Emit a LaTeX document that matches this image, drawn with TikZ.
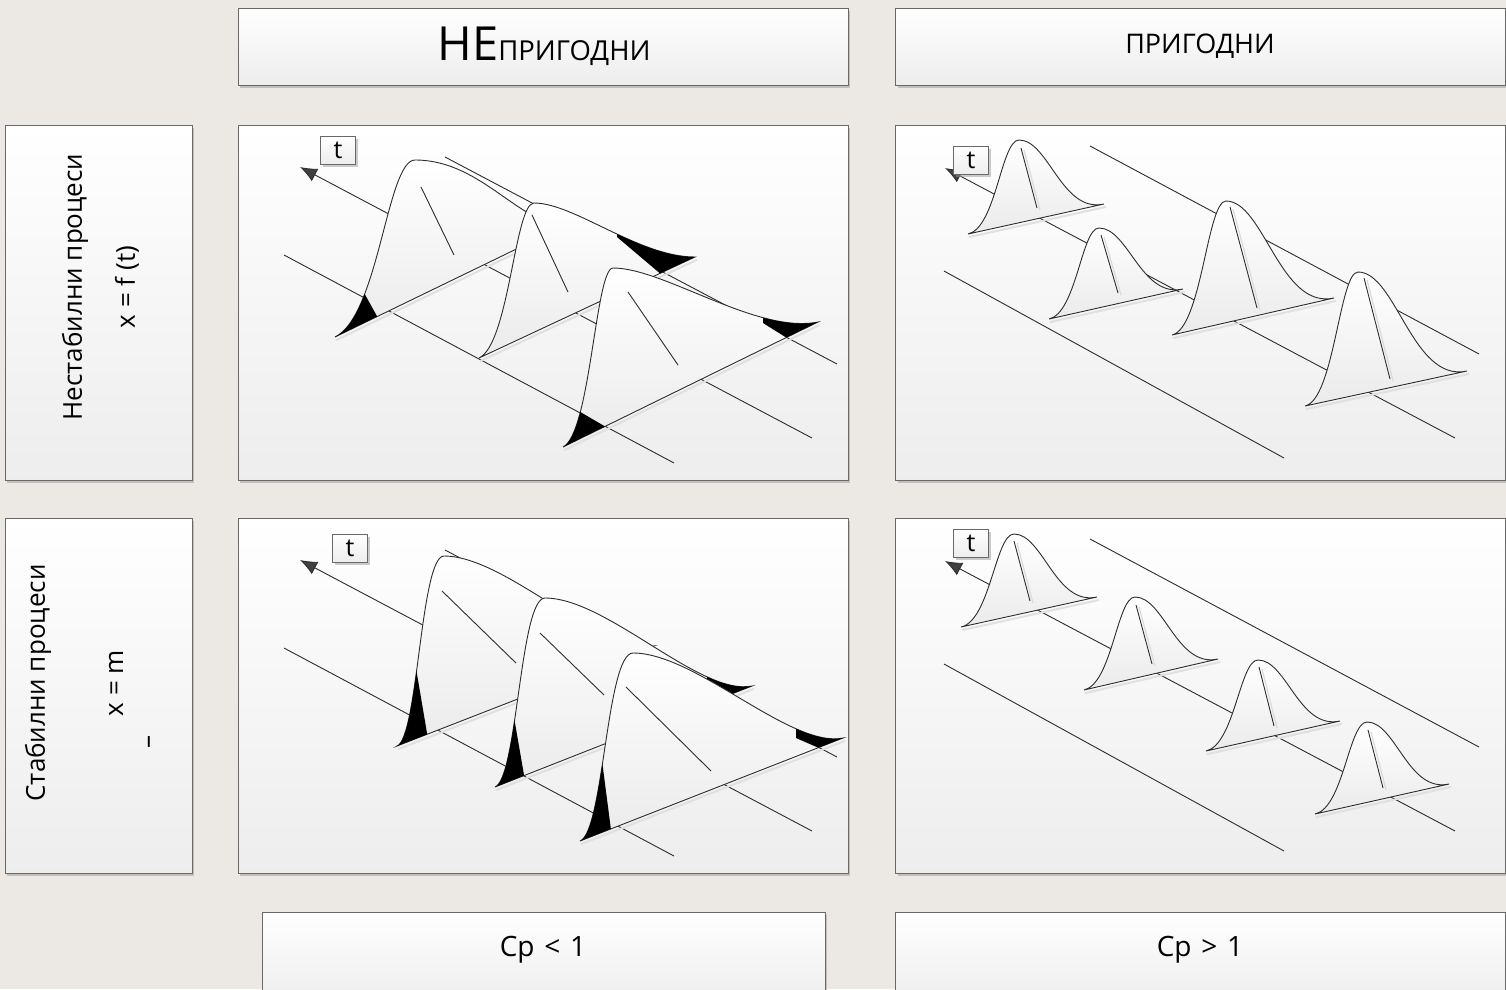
\documentclass[tikz,border=0pt]{standalone}
\usepackage{fontspec}
\setmainfont{Open Sans}
\usetikzlibrary{arrows.meta,shadows}
\definecolor{bg}{RGB}{236,232,228}
\definecolor{ln}{RGB}{45,45,45}
\definecolor{frm}{RGB}{105,105,105}
\definecolor{arr}{RGB}{64,64,64}
% hump outline: L=(#1,#2), peak P=(#3,#4), R=(#5,#6)
\newcommand\hump[6]{(#1,#2) .. controls ({#1+\ha*(#3-#1)},{#2+\ha*(#3-#1)*(#6-#2)/(#5-#1)}) and ({#3-\hb*(#3-#1)},#4) .. (#3,#4) .. controls ({#3+\hc*(#5-#3)},#4) and ({#5-\hd*(#5-#3)},{#6+\hd*(#5-#3)*\he}) .. (#5,#6) -- cycle}
% soft shadow under a hump base
\newcommand\hshadow[6]{\draw[hsh] ({#1+1.5},{#2+3}) -- ({#5+1.5},{#6+3});}
\def\ha{0.55}\def\hb{0.35}\def\hc{0.45}\def\hd{0.4}\def\he{0}
\begin{document}
\begin{tikzpicture}[x=1pt,y=-1pt,
  boxst/.style={draw=frm, line width=1pt, top color=white, bottom color=black!7, inner sep=0pt,
    drop shadow={shadow xshift=2pt,shadow yshift=-2.5pt,fill=black!40,opacity=0.5}},
  axline/.style={draw=ln, line width=0.9pt},
  msh/.style={draw=black!14, line width=1.2pt},
  hsh/.style={draw=black!12, line width=2pt, line cap=round},
  axarr/.style={axline, {Latex[length=17pt,width=14pt,fill=arr]}-},
  humpst/.style={draw=ln, line width=0.9pt, top color=white, bottom color=black!8},
  tboxst/.style={boxst, minimum width=35, minimum height=28, font=\fontsize{25}{25}\selectfont},
  lblst/.style={font=\fontsize{26}{30}\selectfont, rotate=90, inner sep=0pt},
  txtst/.style={font=\fontsize{27}{30}\selectfont, inner sep=0pt},
  blk/.style={fill=black}
]
\useasboundingbox (0,0) rectangle (1506,989);
\fill[bg] (0,0) rectangle (1506,989);
\clip (0,0) rectangle (1506,989);

% frames
\node[boxst, minimum width=610, minimum height=77] (hdr1) at (543,46.5) {};
\node[boxst, minimum width=610, minimum height=77] (hdr2) at (1200.5,46.5) {};
\node[boxst, minimum width=187, minimum height=355] (lab1) at (98.5,302.5) {};
\node[boxst, minimum width=187, minimum height=355] (lab2) at (98.5,695.5) {};
\node[boxst, minimum width=610, minimum height=355] (pan1) at (543,302.5) {};
\node[boxst, minimum width=610, minimum height=355] (pan2) at (1200.5,302.5) {};
\node[boxst, minimum width=610, minimum height=355] (pan3) at (543,695.5) {};
\node[boxst, minimum width=610, minimum height=355] (pan4) at (1200.5,695.5) {};
\node[boxst, minimum width=563, minimum height=90] (cp1) at (543.5,957) {};
\node[boxst, minimum width=610, minimum height=90] (cp2) at (1200.5,957) {};

% ---------- top left panel ----------
\draw[axarr] (300,167) -- (812,438);
\draw[axline] (445,157) -- (837,364);
\draw[axline] (284,255) -- (674,463);
\def\ha{0.55}\def\hb{0.35}\def\hc{0.45}\def\hd{0.3}\def\he{0.2}
\hshadow{335}{337}{415}{160}{570}{223}
\path[humpst] \hump{335}{337}{415}{160}{570}{223};
\begin{scope}\clip \hump{335}{337}{415}{160}{570}{223};
\fill[blk] (358,282) -- (388,336) -- (322,410) -- (292,356) -- cycle;\end{scope}
\draw[axline] (421,187) -- (454,255);
\def\hc{0.25}\def\hd{0.35}\def\he{0}
\hshadow{479}{358}{534}{203}{695}{257}
\path[humpst] \hump{479}{358}{534}{203}{695}{257};
\begin{scope}\clip \hump{479}{358}{534}{203}{695}{257};
\fill[blk] (617,150) -- (617,237) -- (675.5,286.5) -- (800,286.5) -- (800,150) -- cycle;\end{scope}
\draw[axline] (532,215) -- (568,292);
\def\hc{0.25}\def\hd{0.3}\def\he{0.2}
\hshadow{563}{447}{613}{268}{818}{322}
\path[humpst] \hump{563}{447}{613}{268}{818}{322};
\begin{scope}\clip \hump{563}{447}{613}{268}{818}{322};
\fill[blk] (534,385) -- (654,455) -- (597,557) -- (477,487) -- cycle;
\fill[blk] (763,250) -- (763,323) -- (811,353) -- (900,353) -- (900,250) -- cycle;\end{scope}
\draw[axline] (628,292) -- (678,365);

% ---------- bottom left panel ----------
\draw[axarr] (300,560) -- (812,831);
\draw[axline] (445,550) -- (837,757);
\draw[axline] (284,648) -- (674,856);
\def\ha{0.45}\def\hb{0.5}\def\hc{0.3}\def\hd{0.25}\def\he{0.2}
\hshadow{397}{746}{444}{556}{654}{646}
\path[humpst] \hump{397}{746}{444}{556}{654}{646};
\begin{scope}\clip \hump{397}{746}{444}{556}{654}{646};
\fill[blk] (409,627) -- (431.5,759.5) -- (371.5,759.5) -- (349,627) -- cycle;
\fill[blk] (640,600) -- (640,641) -- (651,662) -- (700,662) -- (700,600) -- cycle;\end{scope}
\draw[axline] (442,591) -- (516,663);
\hshadow{495}{787}{545}{598}{752}{686}
\path[humpst] \hump{495}{787}{545}{598}{752}{686};
\begin{scope}\clip \hump{495}{787}{545}{598}{752}{686};
\fill[blk] (506,671) -- (528.5,801) -- (468.5,801) -- (446,671) -- cycle;
\fill[blk] (707,600) -- (707,683) -- (737,707) -- (800,707) -- (800,600) -- cycle;\end{scope}
\draw[axline] (540,633) -- (604,695);
\hshadow{580}{841}{633}{653}{843}{738}
\path[humpst] \hump{580}{841}{633}{653}{843}{738};
\begin{scope}\clip \hump{580}{841}{633}{653}{843}{738};
\fill[blk] (597,722) -- (614.5,857) -- (554.5,857) -- (537,722) -- cycle;
\fill[blk] (796,650) -- (796,738) -- (842,758) -- (900,758) -- (900,650) -- cycle;\end{scope}
\draw[axline] (626,687) -- (711,771);

% ---------- top right panel ----------
\draw[axarr] (945,168) -- (1455,438);
\draw[axline] (1090,146) -- (1479,354);
\draw[axline] (944,271) -- (1284,458);
\def\ha{0.55}\def\hb{0.35}\def\hc{0.35}\def\hd{0.5}\def\he{0.22}
\hshadow{968}{234}{1019}{140}{1104}{204}
\path[humpst] \hump{968}{234}{1019}{140}{1104}{204};
\draw[msh] (1024,150) -- (1040,210);
\draw[axline] (1021,148) -- (1037,208);
\hshadow{1049}{319}{1099}{228}{1183}{289}
\path[humpst] \hump{1049}{319}{1099}{228}{1183}{289};
\draw[msh] (1104,237) -- (1121,295);
\draw[axline] (1101,235) -- (1118,293);
\hshadow{1172}{335}{1226}{201}{1334}{298}
\path[humpst] \hump{1172}{335}{1226}{201}{1334}{298};
\draw[msh] (1233,209) -- (1260,310);
\draw[axline] (1230,207) -- (1257,308);
\hshadow{1305}{406}{1358}{272}{1467}{371}
\path[humpst] \hump{1305}{406}{1358}{272}{1467}{371};
\draw[msh] (1367,280) -- (1393,381);
\draw[axline] (1364,278) -- (1390,379);

% ---------- bottom right panel ----------
\draw[axarr] (945,561) -- (1455,831);
\draw[axline] (1090,539) -- (1479,747);
\draw[axline] (944,664) -- (1284,851);
\hshadow{961}{627}{1014}{534}{1097}{597}
\path[humpst] \hump{961}{627}{1014}{534}{1097}{597};
\draw[msh] (1017,543) -- (1033,603);
\draw[axline] (1014,541) -- (1030,601);
\hshadow{1084}{690}{1135}{597}{1218}{659}
\path[humpst] \hump{1084}{690}{1135}{597}{1218}{659};
\draw[msh] (1139,607) -- (1155,666);
\draw[axline] (1136,605) -- (1152,664);
\hshadow{1206}{751}{1258}{660}{1340}{721}
\path[humpst] \hump{1206}{751}{1258}{660}{1340}{721};
\draw[msh] (1262,669) -- (1277,728);
\draw[axline] (1259,667) -- (1274,726);
\hshadow{1315}{814}{1367}{722}{1449}{784}
\path[humpst] \hump{1315}{814}{1367}{722}{1449}{784};
\draw[msh] (1371,732) -- (1386,790);
\draw[axline] (1368,730) -- (1383,788);

% t boxes
\node[tboxst] (t1) at (338,150) {t};
\node[tboxst] (t2) at (971,160) {t};
\node[tboxst] (t3) at (350,548) {t};
\node[tboxst] (t4) at (971,543) {t};

% texts
\node[inner sep=0pt] (h1) at (544,46.5) {{\fontsize{47}{47}\selectfont НЕ}{\fontsize{27.5}{28}\selectfont ПРИГОДНИ}};
\node[txtst] (h2) at (1200,46.5) {ПРИГОДНИ};
\node[lblst] (l1a) at (75,287) {Нестабилни процеси};
\node[lblst] (l1b) at (127,287) {x = f (t)};
\node[lblst] (l2a) at (38,683) {Стабилни процеси};
\node[lblst] (l2b) at (116,683) {x = m};
\node[lblst] (l2c) at (152,742) {–};
\node[txtst, font=\fontsize{28}{30}\selectfont] (c1) at (543,950) {Cp\hspace{0.35em}<\hspace{0.35em}1};
\node[txtst, font=\fontsize{28}{30}\selectfont] (c2) at (1200,950) {Cp\hspace{0.35em}>\hspace{0.35em}1};
\end{tikzpicture}
\end{document}
